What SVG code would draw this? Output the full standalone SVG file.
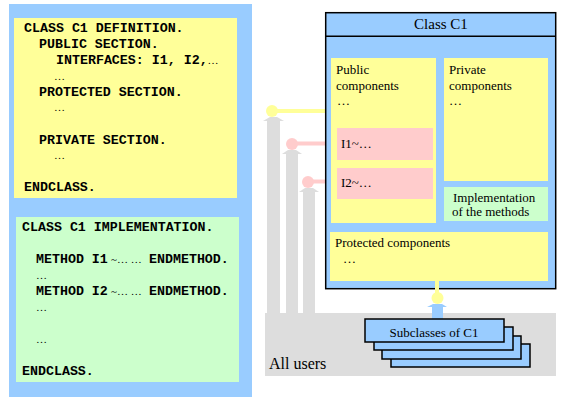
<svg xmlns="http://www.w3.org/2000/svg" width="576" height="403" viewBox="0 0 576 403">
<style>
.blue{fill:#99CCFF}
.yel{fill:#FFFF99}
.grn{fill:#CCFFCC}
.pink{fill:#FFCCCC}
.gray{fill:#DDDDDD}
.code{font-family:"Liberation Mono","Courier New",monospace;font-weight:bold;font-size:13.3px;fill:#000}
.dots{font-family:"Liberation Serif","Times New Roman",serif;font-weight:normal;font-size:11px;fill:#000}
.lbl{font-family:"Liberation Serif","Times New Roman",serif;font-size:13px;fill:#000}
.box{stroke:#000;stroke-width:1.5}
</style>
<rect width="576" height="403" fill="#FFFFFF"/>

<g id="source-code">
  <rect class="blue" x="9" y="4" width="243" height="393"/>
  <g id="definition">
    <rect class="yel" x="14" y="18" width="223" height="180"/>
    <text class="code" x="24" y="32">CLASS C1 DEFINITION.</text>
    <text class="code" x="39" y="48">PUBLIC SECTION.</text>
    <text class="code" x="56" y="64">INTERFACES: I1, I2,<tspan class="dots">…</tspan></text>
    <text class="dots" x="54" y="80">…</text>
    <text class="code" x="39" y="96">PROTECTED SECTION.</text>
    <text class="dots" x="54" y="111">…</text>
    <text class="code" x="39" y="144">PRIVATE SECTION.</text>
    <text class="dots" x="54" y="159">…</text>
    <text class="code" x="24" y="191">ENDCLASS.</text>
  </g>
  <g id="implementation">
    <rect class="grn" x="16" y="217" width="223" height="165"/>
    <text class="code" x="22" y="231">CLASS C1 IMPLEMENTATION.</text>
    <text class="code" x="36" y="263">METHOD I1<tspan class="dots" x="111">~… …</tspan><tspan x="149">ENDMETHOD.</tspan></text>
    <text class="dots" x="36" y="279">…</text>
    <text class="code" x="36" y="295">METHOD I2<tspan class="dots" x="111">~… …</tspan><tspan x="149">ENDMETHOD.</tspan></text>
    <text class="dots" x="36" y="311">…</text>
    <text class="dots" x="36" y="343">…</text>
    <text class="code" x="22" y="375">ENDCLASS.</text>
  </g>
</g>

<g id="all-users">
  <rect class="gray" x="265" y="313" width="291" height="63"/>
  <text x="269" y="369" font-family="Liberation Serif, Times New Roman, serif" font-size="16" fill="#000">All users</text>
</g>

<g id="connectors">
  <g id="public-access">
    <polygon class="gray" points="270,117 277,117 284,121 280,121 280,313 267,313 267,121 263,121"/>
    <line x1="272" y1="111" x2="325" y2="111" stroke="#FFFF99" stroke-width="4"/>
    <circle cx="272" cy="111" r="6" fill="#FFFF99"/>
  </g>
  <g id="i1-access">
    <polygon class="gray" points="288,150 296,150 302,154 298,154 298,313 286,313 286,154 282,154"/>
    <line x1="292" y1="143.5" x2="337" y2="143.5" stroke="#FFCCCC" stroke-width="4"/>
    <circle cx="292" cy="144" r="6" fill="#FFCCCC"/>
  </g>
  <g id="i2-access">
    <polygon class="gray" points="305,188 313,188 319,192 315,192 315,313 303,313 303,192 299,192"/>
    <line x1="308" y1="181.5" x2="337" y2="181.5" stroke="#FFCCCC" stroke-width="4"/>
    <circle cx="308" cy="182" r="6" fill="#FFCCCC"/>
  </g>
</g>

<g id="class-c1">
  <rect class="blue box" x="325.7" y="12.7" width="230" height="276"/>
  <line x1="325.7" y1="36.3" x2="555.7" y2="36.3" stroke="#000" stroke-width="1.5"/>
  <text x="441" y="29" text-anchor="middle" font-family="Liberation Serif, Times New Roman, serif" font-size="15" fill="#000">Class C1</text>
  <g id="public-components">
    <rect class="yel" x="331" y="58" width="105" height="165"/>
    <text class="lbl" x="336" y="74">Public</text>
    <text class="lbl" x="336" y="90">components</text>
    <text class="lbl" x="337" y="105">…</text>
  </g>
  <g id="interface-i1">
    <rect class="pink" x="337" y="128" width="96" height="32"/>
    <text class="lbl" x="341" y="148">I1~…</text>
  </g>
  <g id="interface-i2">
    <rect class="pink" x="337" y="168" width="96" height="31"/>
    <text class="lbl" x="341" y="187">I2~…</text>
  </g>
  <g id="private-components">
    <rect class="yel" x="444" y="58" width="104" height="123"/>
    <text class="lbl" x="449" y="74">Private</text>
    <text class="lbl" x="449" y="90">components</text>
    <text class="lbl" x="449" y="105">…</text>
  </g>
  <g id="method-implementation">
    <rect class="grn" x="444" y="187" width="104" height="34"/>
    <text class="lbl" x="453" y="202" font-size="12.5">Implementation</text>
    <text class="lbl" x="452" y="216" font-size="12.5">of the methods</text>
  </g>
  <g id="protected-components">
    <rect class="yel" x="330" y="232" width="218" height="49"/>
    <text class="lbl" x="335" y="247">Protected components</text>
    <text class="lbl" x="343" y="263">…</text>
  </g>
</g>

<g id="connectors-subclass">
  <line x1="437" y1="281" x2="437" y2="298" stroke="#FFFF99" stroke-width="4"/>
  <circle cx="437.5" cy="298" r="6" fill="#FFFF99"/>
  <polygon class="blue" points="433,304 442,304 447,307 443,307 443,320 432,320 432,307 427,307"/>
</g>

<g id="subclasses">
  <rect class="blue box" x="391" y="344" width="139" height="23"/>
  <rect class="blue box" x="382" y="336" width="139" height="23"/>
  <rect class="blue box" x="374" y="327" width="139" height="23"/>
  <rect class="blue box" x="365" y="319" width="139" height="23"/>
  <text class="lbl" x="434" y="337" text-anchor="middle">Subclasses of C1</text>
</g>
</svg>
